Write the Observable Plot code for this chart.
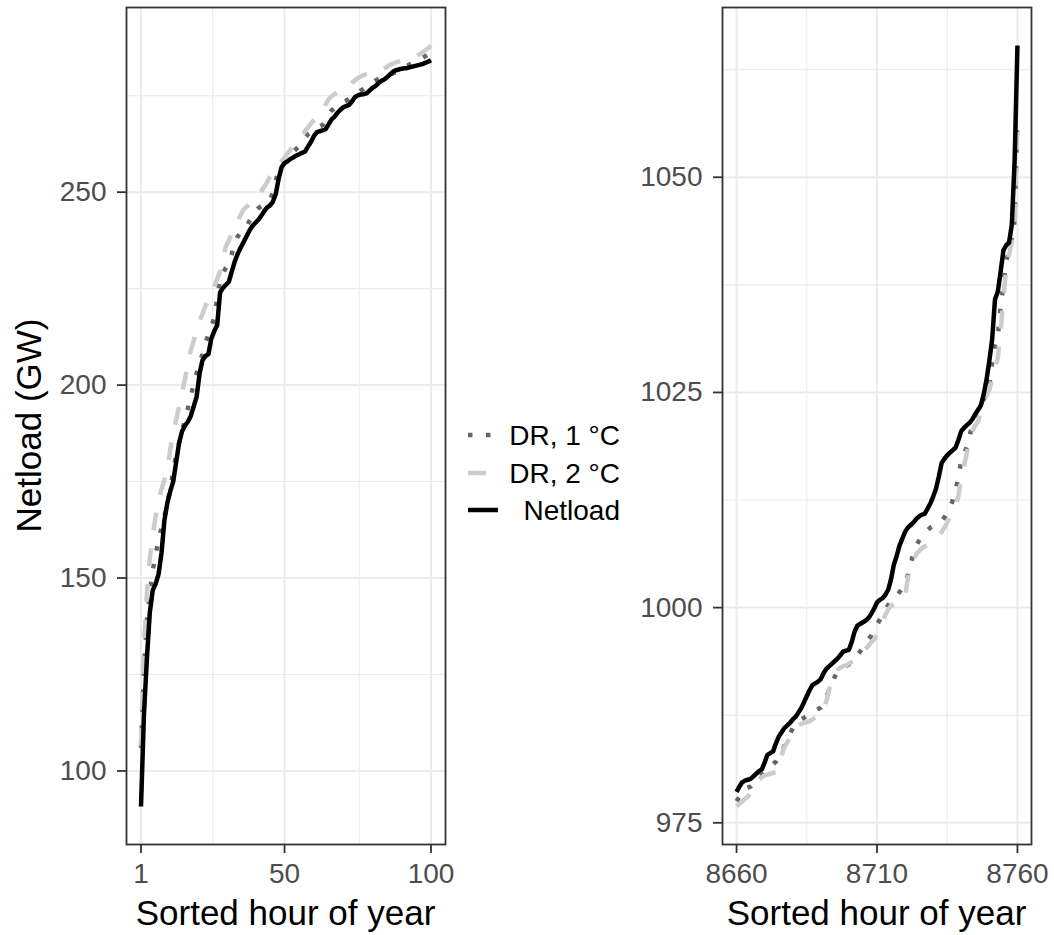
<!DOCTYPE html>
<html>
<head>
<meta charset="utf-8">
<script src="https://cdn.jsdelivr.net/npm/d3@7"></script>
<script src="https://cdn.jsdelivr.net/npm/@observablehq/plot@0.6"></script>
<style>
  html, body { margin: 0; padding: 0; background: #fff; }
  #wrap { position: relative; width: 1054px; height: 935px; background: #fff; font-family: "Liberation Sans", Arial, Helvetica, sans-serif; }
  #wrap > .panel { position: absolute; top: 0; }
  #wrap svg { background: transparent !important; }
  #overlay { position: absolute; left: 0; top: 0; pointer-events: none; }
</style>
</head>
<body>
<div id="wrap"></div>
<script>
// ---------------- DATA ----------------
const seriesNames = ["DR, 1 °C", "DR, 2 °C", "Netload"];
const seriesColors = ["#666666", "#CCCCCC", "#000000"];

// Left panel: sorted hours 1..100
const firstHourLeft = 1;
const netloadLow = [
  90.8,114.5,129,141,146.8,148.5,151,156.5,165,169.5,
  172.5,175,180,185,188,189.5,190.5,192,194.5,197,
  203,206.5,207.5,208,212,214,215.5,224,225.2,226,
  226.8,229.5,232,234,235.6,237,238.5,240,241.2,242,
  242.8,243.8,245,246,246.5,247.5,249.5,253.5,256.5,257.5,
  258,258.6,259,259.5,259.8,260.2,260.5,261.8,263,264.5,
  265.5,265.8,266,266.3,267.5,268.8,269.5,270.5,271.3,272,
  272.3,272.6,273.5,274.6,275.1,275.3,275.4,275.6,276.3,277,
  277.5,278.2,278.8,279.2,279.8,280.5,281.2,281.6,281.8,282,
  282.1,282.2,282.4,282.6,282.8,283,283.2,283.5,283.8,284.2
];
const dr1Low = [
  106,126,139,146,152,156,160,163,166,169.5,
  173,178,182,185,188,191,194,197,200.5,203,
  206,208,211,213,215,217.5,222.5,227.5,229,230.5,
  232,234,237,238.5,239.5,240.5,241,242.5,243.8,245,
  245.8,246.3,246.8,247.3,247.8,250,253,255.5,257,257.8,
  258.6,259.5,260.5,261.2,262,263,264,265,265.6,266.2,
  266.6,267,267.4,268.5,270,271.1,271.8,272.4,273,273.4,
  273.7,274.2,274.7,275.2,275.8,276.3,276.8,277.3,277.8,278.4,
  278.9,279.3,279.6,279.9,280.2,280.5,280.8,281,281.4,281.9,
  282.4,282.8,283.2,283.6,284,284.4,284.8,285.2,285.7,286.5
];
const dr2Low = [
  106.5,132,146,155,161,166,170,173,175.5,178,
  183.5,187.5,191,194.5,198,201.5,205.5,209,211.5,214.5,
  216.5,218.5,220.5,222,223.5,225.5,227.5,229.5,233,236,
  237.5,239.5,241,242.5,244,245.5,246.2,246.8,247.3,248,
  249,250.2,251.3,252.5,254,255.2,256.2,257,258,259,
  260,261,261.8,262.6,263.5,264.6,265.8,266.8,267.8,268.6,
  269.2,269.8,271,272.7,274,274.8,275.4,275.8,276,276.3,
  276.8,277.5,278.3,279,279.6,280,280.3,280.6,280.8,281,
  281.2,281.4,281.7,282,282.5,283,283.3,283.6,283.9,284.2,
  284.4,284.5,284.7,285,285.3,285.7,286.2,286.7,287.3,288
];

// Right panel: sorted hours 8660..8760
const firstHourRight = 8660;
const netloadHigh = [
  978.6,979.2,979.7,979.9,980,980.1,980.4,980.7,981,981.2,
  982,982.9,983.1,983.3,984.2,985,985.5,986,986.3,986.6,
  987,987.3,987.8,988.3,989,989.7,990.4,991,991.2,991.4,
  991.7,992.4,992.9,993.2,993.5,993.8,994.1,994.5,994.9,995,
  995.1,996,997.2,997.9,998.1,998.3,998.5,998.8,999.3,999.9,
  1000.6,1000.9,1001.1,1001.5,1002.1,1003.3,1005,1006,1007.2,1008,
  1008.8,1009.3,1009.6,1009.9,1010.3,1010.6,1010.8,1010.9,1011.5,1012.1,
  1012.9,1013.8,1015.2,1016.8,1017.3,1017.7,1018,1018.3,1018.6,1019.5,
  1020.5,1020.9,1021.2,1021.5,1021.9,1022.5,1023,1023.5,1024.8,1026.5,
  1028.7,1031.2,1035.8,1036.7,1039,1041.5,1042.1,1042.4,1044.5,1052,
  1065.3
];
const dr1High = [
  977.5,978,978.6,979,979.1,979.2,979.5,980,980.4,980.6,
  980.8,981.1,981.5,981.8,982.1,982.6,983.2,983.9,984.6,985.3,
  986,986.5,986.8,987,987.2,987.4,987.6,987.8,988,988.2,
  988.4,988.8,989.6,990.5,991.3,992,992.5,992.8,993,993.2,
  993.4,993.7,994.1,994.5,994.9,995.3,995.8,996.3,996.8,997.5,
  998,998.6,999.2,999.8,1000.3,1000.7,1001,1001.4,1001.8,1002.2,
  1002.7,1003.8,1005,1006.4,1007.2,1007.8,1008.3,1008.7,1009,1009.3,
  1009.5,1009.7,1009.9,1010.1,1010.5,1011,1011.6,1012.5,1013.6,1015.3,
  1017,1017.8,1018.7,1020,1021.3,1022.3,1023.1,1023.7,1024.2,1024.7,
  1025.8,1028.5,1030.5,1031.5,1035,1037.5,1040.3,1041.5,1042.8,1045,
  1057
];
const dr2High = [
  976.9,977.2,977.5,977.8,978,978.6,979.2,979.7,980,980.3,
  980.5,980.6,980.7,980.8,980.9,981.5,982.8,983.8,984.3,985,
  985.8,986.1,986.3,986.5,986.6,986.7,986.8,987,987.2,987.3,
  987.5,988.2,989.2,990.5,991.5,992.3,992.8,993,993.2,993.3,
  993.5,993.7,993.9,994.1,994.4,994.8,995.2,995.6,996,996.3,
  996.9,997.6,998.4,999.2,999.8,1000.2,1000.4,1000.5,1000.7,1000.9,
  1001.2,1003.5,1004.8,1005.6,1006.2,1006.6,1006.9,1007.1,1007.3,1007.5,
  1007.8,1008.1,1008.4,1008.8,1009.3,1009.9,1010.6,1011.3,1011.9,1013,
  1015,1016.5,1018,1019.5,1020.5,1021.2,1021.6,1023,1024,1024.6,
  1025.3,1026.5,1027.8,1029,1032,1036,1039.5,1041,1042.5,1044.5,
  1056.5
];

// Tick / grid values
const xTicksLeft = [1, 50, 100];
const xMinorLeft = [25.5, 75.5];
const yTicksLeft = [100, 150, 200, 250];
const yMinorLeft = [125, 175, 225, 275];
const xTicksRight = [8660, 8710, 8760];
const xMinorRight = [8685, 8735];
const yTicksRight = [975, 1000, 1025, 1050];
const yMinorRight = [987.5, 1012.5, 1037.5, 1062.5];

const xTitle = "Sorted hour of year";
const yTitle = "Netload (GW)";

// ---------------- BUILD ----------------
const FONT = '"Liberation Sans", Arial, Helvetica, sans-serif';
const LW = 4.5;
const dashFor = [`${LW},${LW * 3}`, `${LW * 4},${LW * 4}`, null];

function rows(start, values) {
  return values.map((v, i) => ({hour: start + i, value: v}));
}
function expand([a, b], f = 0.05) {
  const d = (b - a) * f;
  return [a - d, b + d];
}

function panel({start, series, xTicks, xMinor, yTicks, yMinor, width, marginLeft, marginRight}) {
  const data = series.map(s => rows(start, s));
  const all = data.flat();
  const xDom = expand(d3.extent(all, d => d.hour));
  const yDom = expand(d3.extent(all, d => d.value));
  const grid = {stroke: "#EBEBEB", strokeOpacity: 1};
  return Plot.plot({
    width, height: 935,
    marginLeft, marginRight, marginTop: 7, marginBottom: 91,
    style: {fontFamily: FONT, background: "transparent", overflow: "visible"},
    x: {domain: xDom, axis: null},
    y: {domain: yDom, axis: null},
    marks: [
      Plot.gridX(xMinor, {...grid, strokeWidth: 1.1}),
      Plot.gridY(yMinor, {...grid, strokeWidth: 1.1}),
      Plot.gridX(xTicks, {...grid, strokeWidth: 2}),
      Plot.gridY(yTicks, {...grid, strokeWidth: 2}),
      ...data.map((d, i) => Plot.line(d, {
        x: "hour", y: "value",
        stroke: seriesColors[i],
        strokeWidth: LW,
        strokeDasharray: dashFor[i],
        strokeLinecap: "butt",
        strokeLinejoin: "round"
      })),
      Plot.frame({stroke: "#333333", strokeWidth: 1.8}),
      // tick marks only
      Plot.axisX(xTicks, {fill: "none", tickSize: 9, stroke: "#333333", strokeWidth: 1.8, label: null}),
      Plot.axisY(yTicks, {fill: "none", tickSize: 9, stroke: "#333333", strokeWidth: 1.8, label: null}),
      // tick labels only
      Plot.axisX(xTicks, {tickSize: 0, tickPadding: 19, fontSize: 28, fill: "#4D4D4D", tickFormat: d => String(d), label: null}),
      Plot.axisY(yTicks, {tickSize: 0, tickPadding: 20, fontSize: 28, fill: "#4D4D4D", tickFormat: d => String(d), label: null})
    ]
  });
}

const wrap = document.getElementById("wrap");

const left = panel({
  start: firstHourLeft,
  series: [dr1Low, dr2Low, netloadLow],
  xTicks: xTicksLeft, xMinor: xMinorLeft, yTicks: yTicksLeft, yMinor: yMinorLeft,
  width: 470, marginLeft: 126, marginRight: 25
});
left.classList.add("panel");
left.style.left = "0px";
wrap.appendChild(left);

const right = panel({
  start: firstHourRight,
  series: [dr1High, dr2High, netloadHigh],
  xTicks: xTicksRight, xMinor: xMinorRight, yTicks: yTicksRight, yMinor: yMinorRight,
  width: 434, marginLeft: 102, marginRight: 23
});
right.classList.add("panel");
right.style.left = "620px";
wrap.appendChild(right);

// Overlay: axis titles and legend
const ns = "http://www.w3.org/2000/svg";
const ov = document.createElementNS(ns, "svg");
ov.setAttribute("id", "overlay");
ov.setAttribute("width", 1054);
ov.setAttribute("height", 935);
ov.setAttribute("font-family", FONT);
function txt(str, attrs) {
  const t = document.createElementNS(ns, "text");
  for (const k in attrs) t.setAttribute(k, attrs[k]);
  t.textContent = str;
  ov.appendChild(t);
  return t;
}
txt(xTitle, {x: 285.5, y: 925, "text-anchor": "middle", "font-size": 35, fill: "#000"});
txt(xTitle, {x: 876.5, y: 925, "text-anchor": "middle", "font-size": 35, fill: "#000"});
txt(yTitle, {transform: "translate(41,425.5) rotate(-90)", "text-anchor": "middle", "font-size": 35, fill: "#000"});

const legendRows = [435, 473, 510];
seriesNames.forEach((name, i) => {
  const l = document.createElementNS(ns, "line");
  l.setAttribute("x1", 468); l.setAttribute("x2", 498);
  l.setAttribute("y1", legendRows[i]); l.setAttribute("y2", legendRows[i]);
  l.setAttribute("stroke", seriesColors[i]);
  l.setAttribute("stroke-width", LW);
  if (dashFor[i]) l.setAttribute("stroke-dasharray", dashFor[i]);
  ov.appendChild(l);
  txt(name, {x: 620, y: legendRows[i] + 10, "text-anchor": "end", "font-size": 28, fill: "#000"});
});
wrap.appendChild(ov);
</script>
</body>
</html>
